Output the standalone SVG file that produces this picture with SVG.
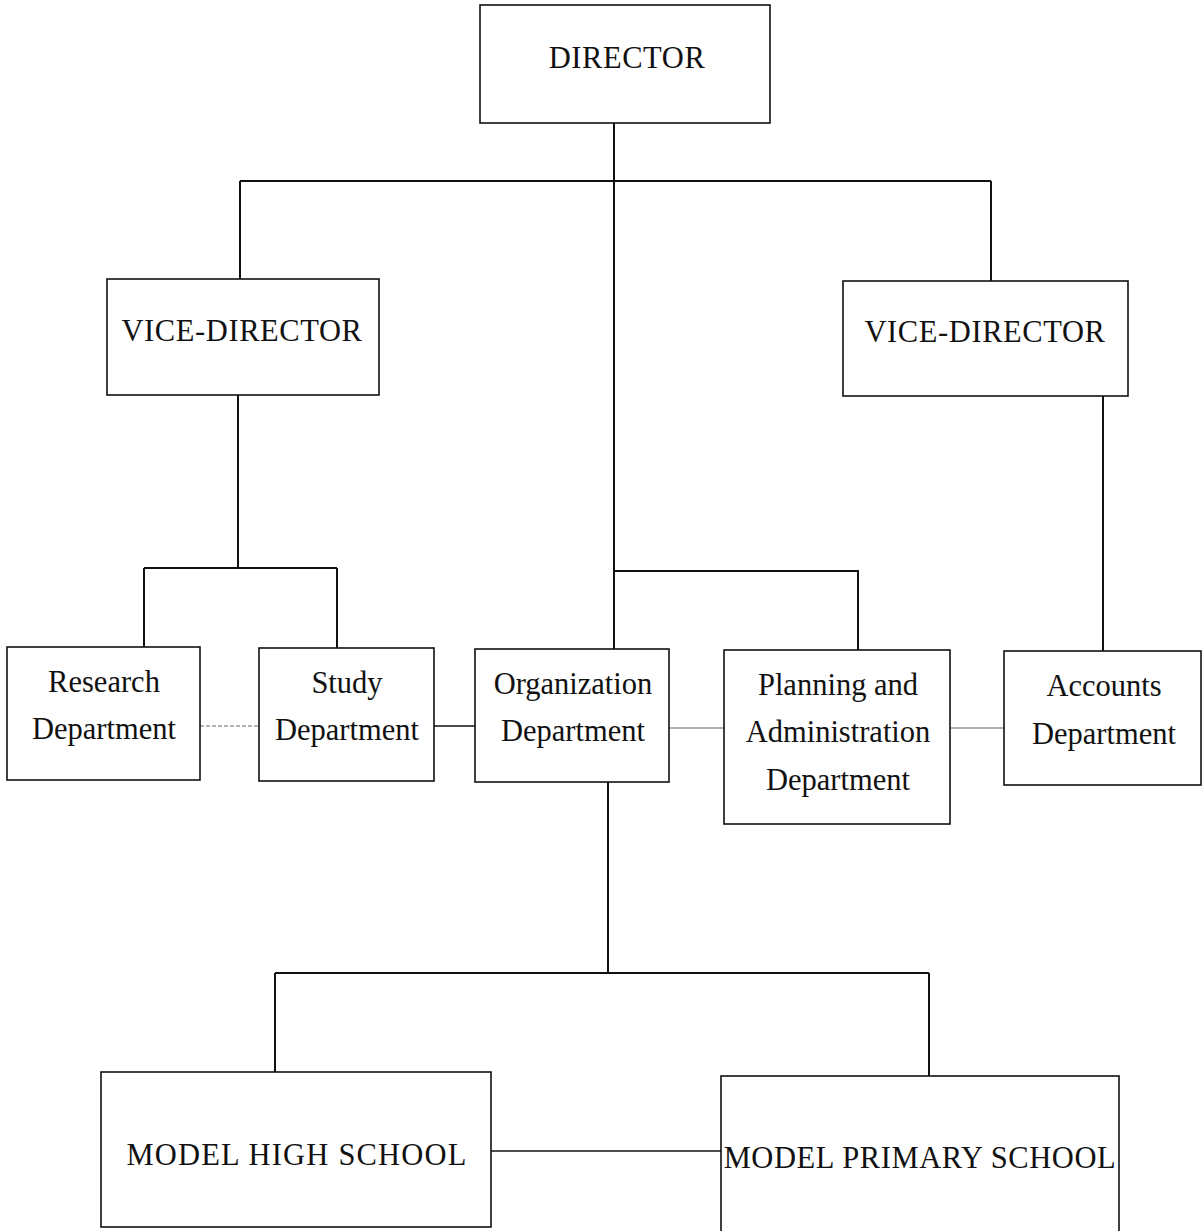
<svg xmlns="http://www.w3.org/2000/svg" width="1203" height="1231" viewBox="0 0 1203 1231">
<style>
.box{fill:#fff;stroke:#111;stroke-width:1.6}
.t{font-family:"Liberation Serif","Times New Roman",serif;font-size:30.5px;fill:#111;text-anchor:middle}
.caps{letter-spacing:0.6px}
.c{fill:none;stroke:#111;stroke-width:2}
.thin{fill:none;stroke:#666;stroke-width:1.2}
</style>
<rect width="1203" height="1231" fill="#fff"/>
<g id="connectors">
<path class="c" d="M614,123 V649"/>
<path class="c" d="M240,181 H991 M240,181 V279 M991,181 V281"/>
<path class="c" d="M238,395 V568 M144,568 H337 M144,568 V647 M337,568 V648"/>
<path class="c" d="M614,571 H858 V650"/>
<path class="c" d="M1103,396 V651"/>
<path class="c" d="M608,782 V973 M275,973 H929 M275,973 V1072 M929,973 V1076"/>
<path class="thin" d="M200,726 H259" stroke-dasharray="4,2"/>
<path class="c" style="stroke-width:1.4" d="M434,726 H475"/>
<path class="thin" d="M669,728 H724"/>
<path class="thin" d="M950,728 H1004"/>
<path class="c" style="stroke-width:1.6" d="M491,1151 H721"/>
</g>
<g id="director"><rect class="box" x="480" y="5" width="290" height="118"/><text class="t caps" x="627" y="68">DIRECTOR</text></g>
<g id="vice-left"><rect class="box" x="107" y="279" width="272" height="116"/><text class="t caps" x="242" y="341">VICE-DIRECTOR</text></g>
<g id="vice-right"><rect class="box" x="843" y="281" width="285" height="115"/><text class="t caps" x="985" y="342">VICE-DIRECTOR</text></g>
<g id="research"><rect class="box" x="7" y="647" width="193" height="133"/><text class="t" x="104" y="692">Research</text><text class="t" x="104" y="739">Department</text></g>
<g id="study"><rect class="box" x="259" y="648" width="175" height="133"/><text class="t" x="347" y="693">Study</text><text class="t" x="347" y="740">Department</text></g>
<g id="organization"><rect class="box" x="475" y="649" width="194" height="133"/><text class="t" x="573" y="694">Organization</text><text class="t" x="573" y="741">Department</text></g>
<g id="planning"><rect class="box" x="724" y="650" width="226" height="174"/><text class="t" x="838" y="695">Planning and</text><text class="t" x="838" y="742">Administration</text><text class="t" x="838" y="790">Department</text></g>
<g id="accounts"><rect class="box" x="1004" y="651" width="197" height="134"/><text class="t" x="1104" y="696">Accounts</text><text class="t" x="1104" y="744">Department</text></g>
<g id="high-school"><rect class="box" x="101" y="1072" width="390" height="155"/><text class="t caps" x="297" y="1165" style="letter-spacing:1.2px">MODEL HIGH SCHOOL</text></g>
<g id="primary-school"><rect class="box" x="721" y="1076" width="398" height="160"/><text class="t caps" x="920" y="1168" style="letter-spacing:0.6px">MODEL PRIMARY SCHOOL</text></g>
</svg>
